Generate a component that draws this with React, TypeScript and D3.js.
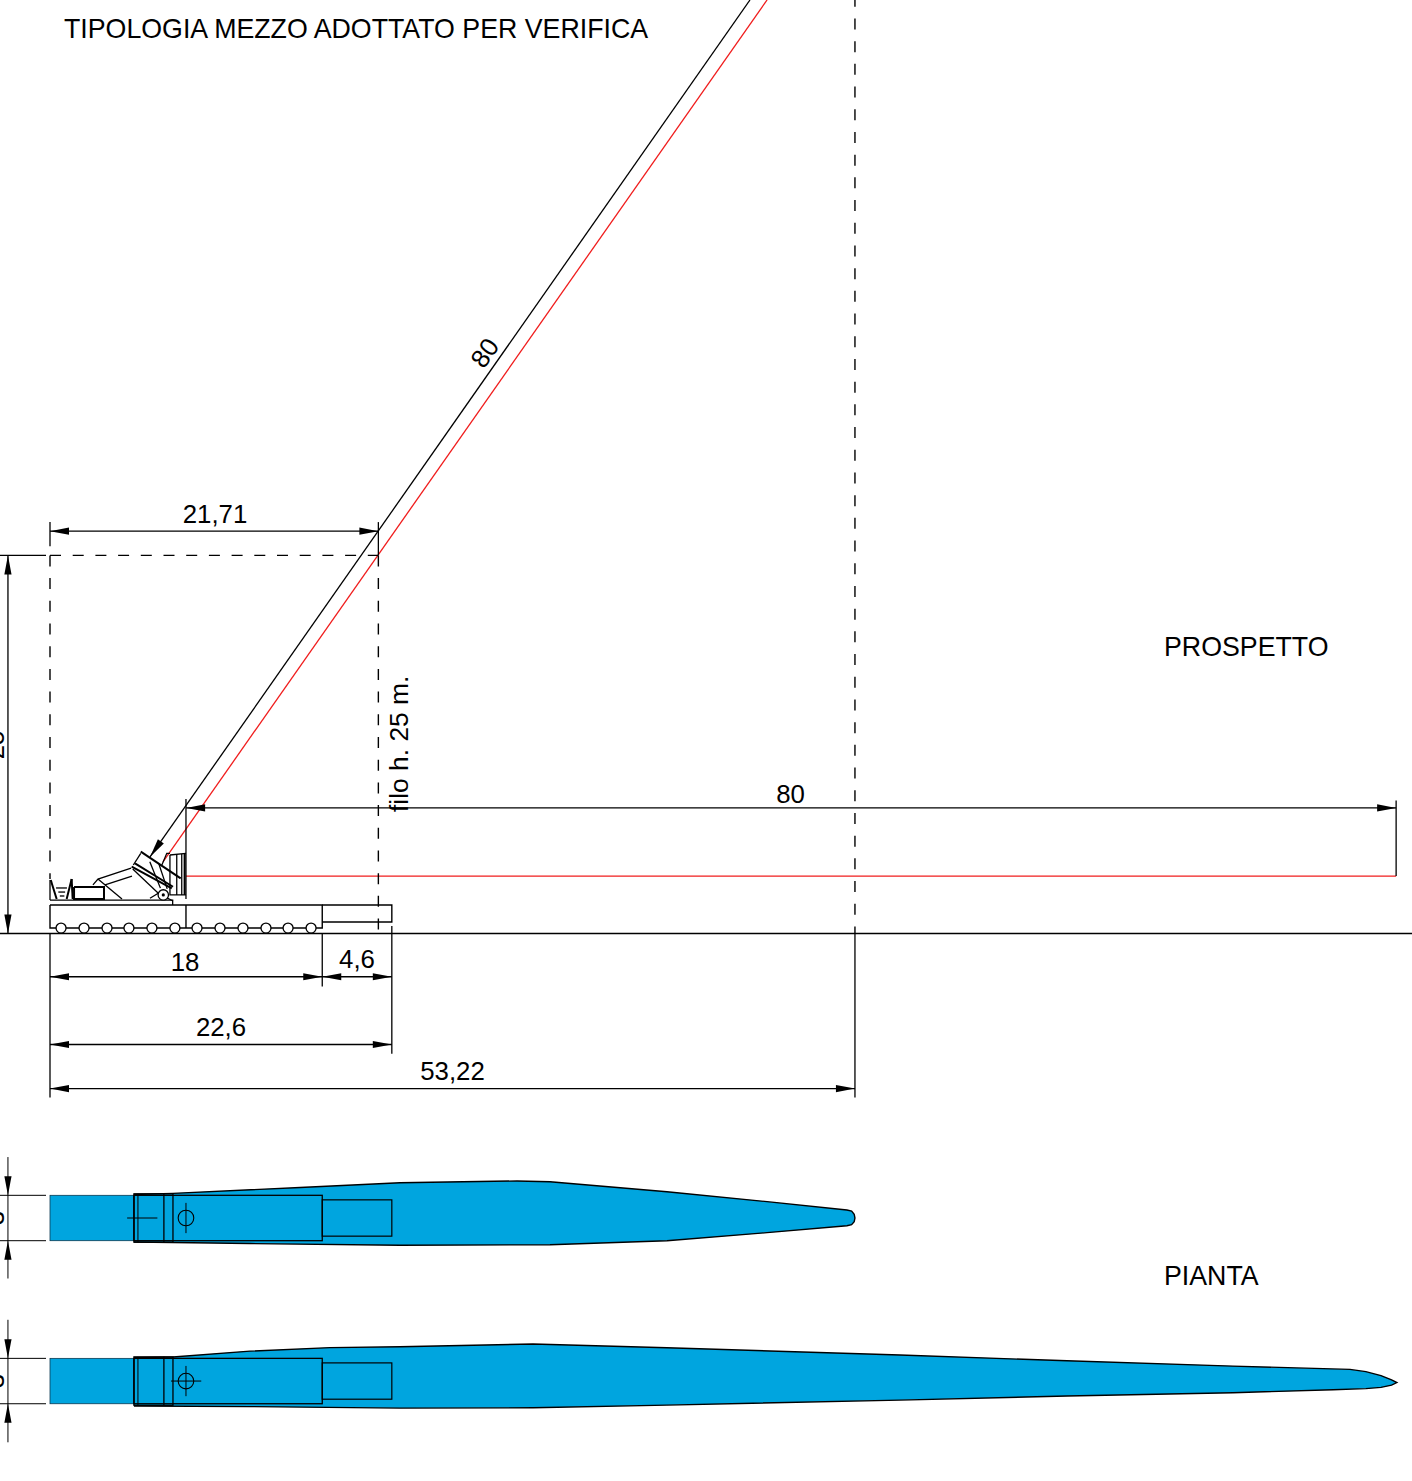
import React from "react";
import * as d3 from "d3";

type P = [number, number];
const W = 1412, H = 1481;
const FONT = "'Liberation Sans', Arial, sans-serif";
const BLUE = "#00A5DF";

// Everything is in metres: x along the ground from the left end of the trailer, y is height above ground
const PX_PER_M = 15.125;
const x = d3.scaleLinear().domain([0, 1]).range([50, 50 + PX_PER_M]);
const y = d3.scaleLinear().domain([0, 1]).range([933.5, 933.5 - PX_PER_M]);
const line = d3.line<P>().x(d => x(d[0])).y(d => y(d[1]));

// Dimension lines
const dimLabels = ["21,71", "18", "4,6", "22,6", "53,22", "80"];
const dimFrom = [0, 0, 18, 0, 0, 9];
const dimTo = [21.71, 18, 22.6, 22.6, 53.22, 89];
const dimLevel = [26.6, -2.86, -2.86, -7.34, -10.25, 8.3];
const dimLabelX = [215, 185, 357, 221, 452.5, 790.5];
const dimLabelY = [523, 971, 968, 1036, 1080, 803];

// Extension lines [x, h1, h2]
const extLines: [number, number, number][] = [
  [0, 27.2, 25.6], [21.71, 27.2, 25],
  [0, 0, -10.85], [18, 0, -3.5], [22.6, 0.5, -7.95], [53.22, 0, -10.85],
  [8.99, 8.9, 2.28], [89, 8.8, 3.8],
];
const dashedLines: [P, P][] = [
  [[0, 25], [0, 3.6]],
  [[0, 25], [21.71, 25]],
  [[21.71, 25], [21.71, 0]],
  [[53.22, 62], [53.22, 0]],
];

// Boom lines
const boomBlack: P[] = [[6.61, 5.06], [46.28, 61.72]];
const boomRed: P[] = [[7.47, 4.73], [47.41, 61.72]];
const bladeRed: P[] = [[8.99, 3.8], [89, 3.8]];

// Trailer
const wheelX = [0.73, 2.25, 3.77, 5.22, 6.74, 8.26, 9.72, 11.24, 12.76, 14.28, 15.74, 17.26];
const wheelH = 0.36;
const trailer: P[] = [[0, 1.88], [18, 1.88], [18, 0.36], [0, 0.36], [0, 1.88]];
const trailerExt: P[] = [[18, 1.88], [22.6, 1.88], [22.6, 0.76], [18, 0.76]];
const trailerDiv: P[] = [[8.99, 1.88], [8.99, 0.36]];

// Crane body outlines
const craneThin: P[][] = [
  [[0, 2.21], [8.11, 2.21], [8.11, 1.88]],
  [[0, 3.54], [0, 2.21]],
  [[0.4, 3.01], [1.12, 3.01]],
  [[0.55, 2.74], [1.0, 2.74]],
  [[0.65, 2.48], [0.95, 2.48]],
  [[2.84, 3.21], [3.17, 3.6], [5.36, 4.33]],
  [[3.64, 3.21], [5.42, 3.8]],
  [[3.17, 3.6], [4.76, 2.28]],
  [[6.0, 5.3], [5.51, 4.53]],
  [[5.47, 4.26], [7.16, 2.66]],
  [[6.61, 2.33], [7.16, 2.66], [8.13, 2.15]],
  [[7.39, 4.52], [7.72, 5.3], [7.93, 5.3]],
  [[7.93, 5.19], [8.99, 5.3]],
  [[7.93, 5.19], [7.93, 2.55], [8.99, 2.55]],
  [[8.38, 5.22], [8.38, 2.55]],
  [[8.71, 5.26], [8.71, 2.55]],
  [[7.2, 4.6], [7.75, 2.95]],
  [[6.6, 4.75], [7.3, 3.0]],
];
const craneThick: P[][] = [
  [[0.05, 3.54], [0.44, 2.28]],
  [[1.43, 3.6], [1.1, 2.28]],
  [[1.43, 3.6], [1.5, 2.28]],
  [[1.59, 3.07], [3.57, 3.07], [3.57, 2.28], [1.59, 2.28], [1.59, 3.07]],
  [[6.0, 5.41], [8.64, 3.65]],
  [[5.4, 4.42], [8.05, 2.99]],
  [[5.62, 4.64], [8.13, 3.09]],
  [[8.9, 5.3], [8.9, 2.55]],
];
const pivot: P = [7.49, 2.55];

// Plan views: half-width offsets around each blade axis
const planAxis = [-18.81, -29.59];
const bladeDim = ["3", "3"];
const dimTopEnd = [4.03, 4.05];
const dimBottomEnd = [-4.0, -4.05];

const blade1Top: P[] = [[5.55, 1.55], [8.13, 1.63], [16.53, 2.02], [23.14, 2.33], [30.88, 2.45], [33.06, 2.4], [40.79, 1.74], [47.41, 1.08], [52.69, 0.53], [53.0, 0.46], [53.17, 0.25], [53.22, 0]];
const blade1Bottom: P[] = [[53.17, -0.25], [53.0, -0.44], [52.69, -0.51], [47.41, -0.97], [40.79, -1.5], [33.06, -1.77], [23.14, -1.8], [13.22, -1.69], [5.55, -1.59]];
const blade2Top: P[] = [[5.55, 1.55], [8.13, 1.59], [13.22, 1.98], [18.51, 2.21], [23.14, 2.27], [31.93, 2.45], [40.79, 2.2], [56.2, 1.72], [67.24, 1.34], [78.21, 0.99], [85.95, 0.77], [87, 0.62], [88, 0.36], [88.7, 0.08], [89.05, -0.1]];
const blade2Bottom: P[] = [[88.7, -0.27], [88, -0.42], [87, -0.5], [84.83, -0.58], [78.21, -0.77], [67.24, -0.99], [56.2, -1.26], [40.79, -1.59], [31.93, -1.77], [23.14, -1.79], [13.22, -1.69], [5.55, -1.65]];
const bladeOutlines = [[blade1Top, blade1Bottom], [blade2Top, blade2Bottom]];
const hubHalf = 1.5;
const hubEnd = 5.55;
const plateOuter = { from: 5.55, to: 8.13, half: 1.6 };
const plateSeam = 7.53;
const carEnd = 18;
const carExtHalf = 1.2;
const markHalf = 1;
const markX = [[8.99], [8.99]];
const crossFrom = [5.1, 8.0];
const crossTo = [7.1, 10.0];

const texts = [
  { t: "TIPOLOGIA MEZZO ADOTTATO PER VERIFICA", x: 64, y: 38 },
  { t: "PROSPETTO", x: 1164, y: 656 },
  { t: "PIANTA", x: 1164, y: 1285 },
];

function arrow(tx: number, ty: number, dx: number, dy: number, len = 19, half = 3.6) {
  const bx = tx + dx * len, by = ty + dy * len;
  return `M${tx},${ty}L${bx - dy * half},${by + dx * half}L${bx + dy * half},${by - dx * half}Z`;
}

const S = (d: string | null, w = 1.4, c = "#000", extra: any = {}) => (
  <path d={d ?? ""} fill="none" stroke={c} strokeWidth={w} {...extra} />
);

function Plan({ i }: { i: number }) {
  const axis = planAxis[i];
  const off = (m: number) => y(axis + m);
  const [top, bottom] = bladeOutlines[i];
  const outline = d3.line<P>().x(d => x(d[0])).y(d => off(d[1]));
  const edgeD = outline([...top, ...bottom])!;
  const dimX = x(-2.78);
  return (
    <g>
      <path d={edgeD + "Z"} fill={BLUE} />
      <rect x={x(0)} y={off(hubHalf)} width={x(hubEnd) - x(0)} height={off(-hubHalf) - off(hubHalf)} fill={BLUE} stroke="#0b3a52" strokeWidth={0.8} />
      {S(edgeD, 1.4)}
      <rect x={x(plateOuter.from)} y={off(plateOuter.half)} width={x(plateOuter.to) - x(plateOuter.from)} height={off(-plateOuter.half) - off(plateOuter.half)} fill="none" stroke="#000" strokeWidth={1.3} />
      <line x1={x(plateOuter.from) + 4} x2={x(plateOuter.from) + 4} y1={off(plateOuter.half)} y2={off(-plateOuter.half)} stroke="#000" strokeWidth={1} />
      <line x1={x(plateSeam)} x2={x(plateSeam)} y1={off(plateOuter.half)} y2={off(-plateOuter.half)} stroke="#000" strokeWidth={1.3} />
      <rect x={x(plateOuter.from)} y={off(hubHalf)} width={x(carEnd) - x(plateOuter.from)} height={off(-hubHalf) - off(hubHalf)} fill="none" stroke="#000" strokeWidth={1.3} />
      <rect x={x(carEnd)} y={off(carExtHalf)} width={x(22.6) - x(carEnd)} height={off(-carExtHalf) - off(carExtHalf)} fill="none" stroke="#000" strokeWidth={1.2} />
      <line x1={x(crossFrom[i])} x2={x(crossTo[i])} y1={off(0)} y2={off(0)} stroke="#000" strokeWidth={1} />
      <circle cx={x(markX[i][0])} cy={off(0)} r={7.8} fill="none" stroke="#000" strokeWidth={1.1} />
      <line x1={x(markX[i][0])} x2={x(markX[i][0])} y1={off(markHalf)} y2={off(-markHalf)} stroke="#000" strokeWidth={1} />
      {/* width dimension */}
      <line x1={0} x2={46} y1={off(hubHalf)} y2={off(hubHalf)} stroke="#000" strokeWidth={1} />
      <line x1={0} x2={46} y1={off(-hubHalf)} y2={off(-hubHalf)} stroke="#000" strokeWidth={1} />
      <line x1={dimX} x2={dimX} y1={off(dimTopEnd[i])} y2={off(dimBottomEnd[i])} stroke="#000" strokeWidth={1} />
      <path d={arrow(dimX, off(hubHalf), 0, -1)} fill="#000" />
      <path d={arrow(dimX, off(-hubHalf), 0, 1)} fill="#000" />
      <text transform={`translate(4,${off(0)}) rotate(-90)`} textAnchor="middle" fontFamily={FONT} fontSize={25.8}>{bladeDim[i]}</text>
    </g>
  );
}

export default function App() {
  const ux = (boomBlack[1][0] - boomBlack[0][0]) * PX_PER_M;
  const uy = (boomBlack[0][1] - boomBlack[1][1]) * PX_PER_M;
  const ul = Math.hypot(ux, uy);
  const x25 = x(-2.78);
  return (
    <svg width={W} height={H} viewBox={`0 0 ${W} ${H}`} style={{ position: "absolute", left: 0, top: 0, background: "#fff" }}>
      {/* boom */}
      {S(line(boomBlack), 1.3)}
      {S(line(boomRed), 1.3, "#f01c1c")}
      {S(line(bladeRed), 1.3, "#f01c1c")}
      <path d={arrow(x(boomBlack[0][0]), y(boomBlack[0][1]), ux / ul, uy / ul)} fill="#000" />

      {/* dashed references */}
      {dashedLines.map((l, i) => <g key={i}>{S(line(l), 1.4, "#000", { strokeDasharray: "11 11.7" })}</g>)}

      {/* crane */}
      {craneThin.map((l, i) => <g key={i}>{S(line(l), 1.3)}</g>)}
      {craneThick.map((l, i) => <g key={i}>{S(line(l), 2)}</g>)}
      <circle cx={x(pivot[0])} cy={y(pivot[1])} r={5.2} fill="#fff" stroke="#000" strokeWidth={1.3} />
      <circle cx={x(pivot[0])} cy={y(pivot[1])} r={1.6} fill="#000" />

      {/* trailer */}
      {S(line(trailer), 1.4)}
      {S(line(trailerExt), 1.4)}
      {S(line(trailerDiv), 1.4)}
      {wheelX.map(w => <circle key={w} cx={x(w)} cy={y(wheelH)} r={5} fill="#fff" stroke="#000" strokeWidth={1.3} />)}
      <line x1={0} x2={W} y1={y(0)} y2={y(0)} stroke="#000" strokeWidth={1.3} />

      {/* extension lines */}
      {extLines.map(([m, a, b], i) => <line key={i} x1={x(m)} x2={x(m)} y1={y(a)} y2={y(b)} stroke="#000" strokeWidth={1.3} />)}
      <line x1={0} x2={46} y1={y(25)} y2={y(25)} stroke="#000" strokeWidth={1.2} />

      {/* dimensions */}
      {dimLabels.map((label, i) => {
        const x1 = x(dimFrom[i]), x2 = x(dimTo[i]), yy = y(dimLevel[i]);
        return (
          <g key={i}>
            <line x1={x1} x2={x2} y1={yy} y2={yy} stroke="#000" strokeWidth={1.3} />
            <path d={arrow(x1, yy, 1, 0)} fill="#000" />
            <path d={arrow(x2, yy, -1, 0)} fill="#000" />
            <text x={dimLabelX[i]} y={dimLabelY[i]} textAnchor="middle" fontFamily={FONT} fontSize={25.8}>{label}</text>
          </g>
        );
      })}
      {/* height dimension */}
      <line x1={x25} x2={x25} y1={y(25)} y2={y(0)} stroke="#000" strokeWidth={1.3} />
      <path d={arrow(x25, y(25), 0, 1)} fill="#000" />
      <path d={arrow(x25, y(0), 0, -1)} fill="#000" />
      <text transform={`translate(4,745) rotate(-90)`} textAnchor="middle" fontFamily={FONT} fontSize={25.8}>25</text>

      <text transform="translate(408,812) rotate(-90)" fontFamily={FONT} fontSize={26.4}>filo h. 25 m.</text>
      <text transform="translate(492,358) rotate(-54.7)" textAnchor="middle" fontFamily={FONT} fontSize={25.8}>80</text>

      {texts.map(t => <text key={t.t} x={t.x} y={t.y} fontFamily={FONT} fontSize={26.75}>{t.t}</text>)}

      <Plan i={0} />
      <Plan i={1} />
    </svg>
  );
}
